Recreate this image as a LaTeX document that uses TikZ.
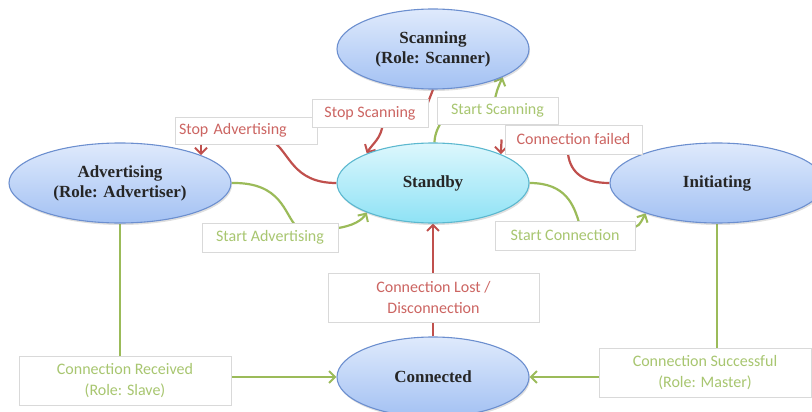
\documentclass[tikz,border=0pt]{standalone}
\usepackage{fontspec}
\setmainfont{Liberation Serif}
\newfontfamily\labelfont{Carlito}
\usetikzlibrary{arrows.meta,shapes.geometric,shadows,calc}
\pgfdeclarelayer{background}
\pgfsetlayers{background,main}

\definecolor{redc}{HTML}{C0504D}
\definecolor{greenc}{HTML}{9BBB59}
\definecolor{redt}{HTML}{CC6562}
\definecolor{greent}{HTML}{A8C670}
\definecolor{boxb}{HTML}{D9D9D9}
\definecolor{bluetop}{HTML}{DFEAFC}
\definecolor{bluebot}{HTML}{A3C1F3}
\definecolor{blueb}{HTML}{6C8FCF}
\definecolor{cyantop}{HTML}{DDF7FD}
\definecolor{cyanbot}{HTML}{8EE2F5}
\definecolor{cyanb}{HTML}{5CB8CF}

\tikzset{
  state/.style={ellipse, draw=blueb, line width=1.1pt, top color=bluetop,
    bottom color=bluebot, minimum height=80pt, inner sep=0pt, align=center,
    font=\fontsize{17}{20}\selectfont\bfseries, text=black!85,
    drop shadow={opacity=0.25, shadow xshift=1pt, shadow yshift=-2pt}},
  cyanstate/.style={state, draw=cyanb, top color=cyantop, bottom color=cyanbot},
  lbl/.style={draw=boxb, fill=white, line width=0.8pt, inner sep=0pt,
    align=center, font=\labelfont\fontsize{16}{20.5}\selectfont,
    drop shadow={opacity=0.12, shadow xshift=1pt, shadow yshift=-1pt}},
  redlbl/.style={lbl, text=redt},
  greenlbl/.style={lbl, text=greent},
  redline/.style={draw=redc, line width=2.2pt},
  greenline/.style={draw=greenc, line width=2.2pt},
  tip/.style={-{Straight Barb[length=6pt,width=12pt,line width=2pt]}},
}

\begin{document}
\begin{tikzpicture}[x=1pt,y=-1pt]
\useasboundingbox (0,0) rectangle (812,412);

% states
\node[state, minimum width=192pt] (scan) at (433,49) {Scanning\\(Role: Scanner)};
\node[cyanstate, minimum width=192pt] (standby) at (433,183) {Standby};
\node[state, minimum width=222pt] (adv) at (120,183) {Advertising\\(Role: Advertiser)};
\node[state, minimum width=214pt] (init) at (717,183) {Initiating};
\node[state, minimum width=192pt] (conn) at (433,377) {Connected};

% labels
\node[redlbl, minimum width=142pt, minimum height=27pt, text width=134pt,
  inner xsep=4pt, align=left] (stopadv) at (246,130.5) {Stop Advertising};
\node[redlbl, minimum width=116pt, minimum height=28pt] (stopscan) at (370,113) {Stop Scanning};
\node[greenlbl, minimum width=121pt, minimum height=27pt] (startscan) at (497.5,110.5) {Start Scanning};
\node[redlbl, minimum width=137pt, minimum height=29pt] (connfail) at (573.5,139.5) {Connection failed};
\node[greenlbl, minimum width=136pt, minimum height=29pt] (startadv) at (270,237.5) {Start Advertising};
\node[greenlbl, minimum width=140pt, minimum height=29pt] (startconn) at (565,235.5) {Start Connection};
\node[redlbl, minimum width=211pt, minimum height=49pt] (connlost) at (433.5,297.5) {Connection Lost /\\Disconnection};
\node[greenlbl, minimum width=212pt, minimum height=49pt] (connrecv) at (125,380.5) {Connection Received\\(Role: Slave)};
\node[greenlbl, minimum width=212pt, minimum height=49pt] (connsucc) at (705,372.5) {Connection Successful\\(Role: Master)};

\begin{pgfonlayer}{background}
% Stop Advertising
\draw[redline] (standby.west) .. controls (292,183) and (290,152) .. ($(stopadv.south west)+(97,-4)$);
\draw[redline, tip] (stopadv.south -| adv.19) -- (adv.19);
% Stop Scanning
\draw[redline] (scan.south) -- ($(stopscan.north east)+(-2,8)$);
\draw[redline, tip] ($(stopscan.south west)+(71,-4)$) .. controls (382,138) and (372,144) .. (standby.156);
% Start Scanning
\draw[greenline] (standby.88) .. controls (435,133) and (438,127) .. ($(startscan.south west)+(7,-6)$);
\draw[greenline, tip] ($(startscan.north west)+(58,4)$) .. controls (497,90) .. (scan.-22);
% Connection failed
\draw[redline] (init.west) .. controls (580,183) and (569,170) .. ($(connfail.south west)+(63,-4)$);
\draw[redline, tip] ($(connfail.west)+(-3,0)$) .. controls (501,146) .. (standby.23);
% Start Advertising
\draw[greenline] (adv.east) .. controls (282,182) and (284,214) .. ($(startadv.north west)+(95,4)$);
\draw[greenline, tip] ($(startadv.north east)+(-4,6)$) .. controls (354,226) and (362,220) .. (standby.204);
% Start Connection
\draw[greenline] (standby.east) .. controls (566,183) and (574,205) .. ($(startconn.north west)+(85,4)$);
\draw[greenline, tip] ($(startconn.north east)+(-4,7)$) .. controls (639,226) .. (init.203);
% Connection Lost
\draw[redline] (conn.north) -- (connlost.south -| conn.north);
\draw[redline, tip] (connlost.north -| standby.south) -- (standby.south);
% slave / master
\draw[greenline] (adv.south) -- (adv.south |- connrecv.north);
\draw[greenline, tip] (connrecv.east |- conn.west) -- (conn.west);
\draw[greenline] (init.south) -- (init.south |- connsucc.north);
\draw[greenline, tip] (connsucc.west |- conn.east) -- (conn.east);
\end{pgfonlayer}
\end{tikzpicture}
\end{document}
